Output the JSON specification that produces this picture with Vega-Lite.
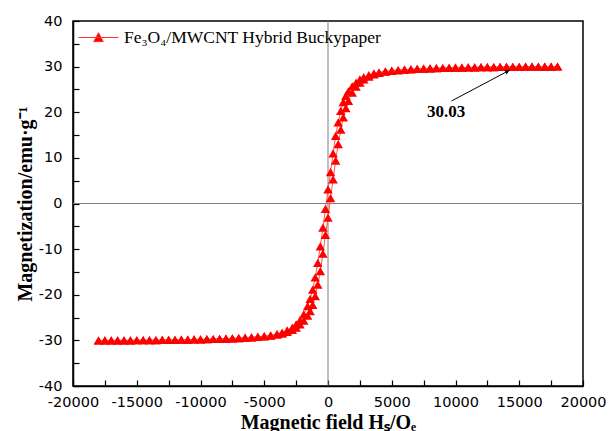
{
  "$schema": "https://vega.github.io/schema/vega-lite/v6.json",
  "width": 510,
  "height": 365,
  "autosize": {"type": "none"},
  "padding": {"left": 73, "top": 21, "right": 27, "bottom": 45},
  "background": "white",
  "config": {
    "view": {"stroke": "black", "strokeWidth": 1.5},
    "axis": {
      "grid": false,
      "domainColor": "black",
      "domainWidth": 1.5,
      "tickColor": "black",
      "tickWidth": 1.2,
      "tickSize": -6,
      "labelFont": "DejaVu Sans",
      "labelFontSize": 14.5,
      "labelColor": "black",
      "labelFlush": false,
      "labelOverlap": false,
      "titleFont": "Liberation Serif",
      "titleFontSize": 20,
      "titleFontWeight": "bold",
      "titleColor": "black"
    }
  },
  "datasets": {
    "loop": [
      {"b":"d","H":18000,"M":30.03},{"b":"d","H":17500,"M":30.02},{"b":"d","H":17000,"M":30.01},{"b":"d","H":16500,"M":30.0},{"b":"d","H":16000,"M":29.99},{"b":"d","H":15500,"M":29.98},{"b":"d","H":15000,"M":29.97},{"b":"d","H":14500,"M":29.96},{"b":"d","H":14000,"M":29.94},{"b":"d","H":13500,"M":29.93},{"b":"d","H":13000,"M":29.91},{"b":"d","H":12500,"M":29.89},{"b":"d","H":12000,"M":29.87},{"b":"d","H":11500,"M":29.85},{"b":"d","H":11000,"M":29.83},{"b":"d","H":10500,"M":29.8},{"b":"d","H":10000,"M":29.77},{"b":"d","H":9500,"M":29.74},{"b":"d","H":9000,"M":29.7},{"b":"d","H":8500,"M":29.66},{"b":"d","H":8000,"M":29.62},{"b":"d","H":7500,"M":29.57},{"b":"d","H":7000,"M":29.51},{"b":"d","H":6500,"M":29.44},{"b":"d","H":6000,"M":29.36},{"b":"d","H":5500,"M":29.26},{"b":"d","H":5000,"M":29.14},{"b":"d","H":4500,"M":28.98},{"b":"d","H":4000,"M":28.76},{"b":"d","H":3600,"M":28.5},{"b":"d","H":3200,"M":28.15},{"b":"d","H":2800,"M":27.7},{"b":"d","H":2500,"M":27.2},{"b":"d","H":2200,"M":26.5},{"b":"d","H":1900,"M":25.7},{"b":"d","H":1600,"M":24.6},{"b":"d","H":1400,"M":23.6},{"b":"d","H":1200,"M":22.2},{"b":"d","H":1000,"M":20.3},{"b":"d","H":800,"M":17.8},{"b":"d","H":600,"M":14.8},{"b":"d","H":400,"M":11.0},{"b":"d","H":200,"M":6.9},{"b":"d","H":0,"M":3.1},{"b":"d","H":-200,"M":-1.2},{"b":"d","H":-400,"M":-5.3},{"b":"d","H":-600,"M":-9.4},{"b":"d","H":-800,"M":-13.0},{"b":"d","H":-1000,"M":-16.2},{"b":"d","H":-1200,"M":-18.9},{"b":"d","H":-1400,"M":-20.9},{"b":"d","H":-1600,"M":-22.5},{"b":"d","H":-1900,"M":-24.3},{"b":"d","H":-2200,"M":-25.6},{"b":"d","H":-2500,"M":-26.5},{"b":"d","H":-2800,"M":-27.2},{"b":"d","H":-3200,"M":-27.8},{"b":"d","H":-3600,"M":-28.3},{"b":"d","H":-4000,"M":-28.6},{"b":"d","H":-4500,"M":-28.9},{"b":"d","H":-5000,"M":-29.08},{"b":"d","H":-5500,"M":-29.2},{"b":"d","H":-6000,"M":-29.32},{"b":"d","H":-6500,"M":-29.41},{"b":"d","H":-7000,"M":-29.49},{"b":"d","H":-7500,"M":-29.56},{"b":"d","H":-8000,"M":-29.61},{"b":"d","H":-8500,"M":-29.66},{"b":"d","H":-9000,"M":-29.7},{"b":"d","H":-9500,"M":-29.74},{"b":"d","H":-10000,"M":-29.77},{"b":"d","H":-10500,"M":-29.8},{"b":"d","H":-11000,"M":-29.83},{"b":"d","H":-11500,"M":-29.85},{"b":"d","H":-12000,"M":-29.87},{"b":"d","H":-12500,"M":-29.89},{"b":"d","H":-13000,"M":-29.91},{"b":"d","H":-13500,"M":-29.93},{"b":"d","H":-14000,"M":-29.94},{"b":"d","H":-14500,"M":-29.96},{"b":"d","H":-15000,"M":-29.97},{"b":"d","H":-15500,"M":-29.98},{"b":"d","H":-16000,"M":-29.99},{"b":"d","H":-16500,"M":-30.0},{"b":"d","H":-17000,"M":-30.01},{"b":"d","H":-17500,"M":-30.02},{"b":"d","H":-18000,"M":-30.03},
      {"b":"a","H":-18000,"M":-30.03},{"b":"a","H":-17500,"M":-30.02},{"b":"a","H":-17000,"M":-30.01},{"b":"a","H":-16500,"M":-30.0},{"b":"a","H":-16000,"M":-29.99},{"b":"a","H":-15500,"M":-29.98},{"b":"a","H":-15000,"M":-29.97},{"b":"a","H":-14500,"M":-29.96},{"b":"a","H":-14000,"M":-29.94},{"b":"a","H":-13500,"M":-29.93},{"b":"a","H":-13000,"M":-29.91},{"b":"a","H":-12500,"M":-29.89},{"b":"a","H":-12000,"M":-29.87},{"b":"a","H":-11500,"M":-29.85},{"b":"a","H":-11000,"M":-29.83},{"b":"a","H":-10500,"M":-29.8},{"b":"a","H":-10000,"M":-29.77},{"b":"a","H":-9500,"M":-29.74},{"b":"a","H":-9000,"M":-29.7},{"b":"a","H":-8500,"M":-29.66},{"b":"a","H":-8000,"M":-29.62},{"b":"a","H":-7500,"M":-29.57},{"b":"a","H":-7000,"M":-29.51},{"b":"a","H":-6500,"M":-29.44},{"b":"a","H":-6000,"M":-29.36},{"b":"a","H":-5500,"M":-29.26},{"b":"a","H":-5000,"M":-29.14},{"b":"a","H":-4500,"M":-28.98},{"b":"a","H":-4000,"M":-28.76},{"b":"a","H":-3600,"M":-28.5},{"b":"a","H":-3200,"M":-28.15},{"b":"a","H":-2800,"M":-27.7},{"b":"a","H":-2500,"M":-27.2},{"b":"a","H":-2200,"M":-26.5},{"b":"a","H":-1900,"M":-25.7},{"b":"a","H":-1600,"M":-24.6},{"b":"a","H":-1400,"M":-23.6},{"b":"a","H":-1200,"M":-22.2},{"b":"a","H":-1000,"M":-20.3},{"b":"a","H":-800,"M":-17.8},{"b":"a","H":-600,"M":-14.8},{"b":"a","H":-400,"M":-11.0},{"b":"a","H":-200,"M":-6.9},{"b":"a","H":0,"M":-3.1},{"b":"a","H":200,"M":1.2},{"b":"a","H":400,"M":5.3},{"b":"a","H":600,"M":9.4},{"b":"a","H":800,"M":13.0},{"b":"a","H":1000,"M":16.2},{"b":"a","H":1200,"M":18.9},{"b":"a","H":1400,"M":20.9},{"b":"a","H":1600,"M":22.5},{"b":"a","H":1900,"M":24.3},{"b":"a","H":2200,"M":25.6},{"b":"a","H":2500,"M":26.5},{"b":"a","H":2800,"M":27.2},{"b":"a","H":3200,"M":27.8},{"b":"a","H":3600,"M":28.3},{"b":"a","H":4000,"M":28.6},{"b":"a","H":4500,"M":28.9},{"b":"a","H":5000,"M":29.08},{"b":"a","H":5500,"M":29.2},{"b":"a","H":6000,"M":29.32},{"b":"a","H":6500,"M":29.41},{"b":"a","H":7000,"M":29.49},{"b":"a","H":7500,"M":29.56},{"b":"a","H":8000,"M":29.61},{"b":"a","H":8500,"M":29.66},{"b":"a","H":9000,"M":29.7},{"b":"a","H":9500,"M":29.74},{"b":"a","H":10000,"M":29.77},{"b":"a","H":10500,"M":29.8},{"b":"a","H":11000,"M":29.83},{"b":"a","H":11500,"M":29.85},{"b":"a","H":12000,"M":29.87},{"b":"a","H":12500,"M":29.89},{"b":"a","H":13000,"M":29.91},{"b":"a","H":13500,"M":29.93},{"b":"a","H":14000,"M":29.94},{"b":"a","H":14500,"M":29.96},{"b":"a","H":15000,"M":29.97},{"b":"a","H":15500,"M":29.98},{"b":"a","H":16000,"M":29.99},{"b":"a","H":16500,"M":30.0},{"b":"a","H":17000,"M":30.01},{"b":"a","H":17500,"M":30.02},{"b":"a","H":18000,"M":30.03}
    ]
  },
  "encoding": {
    "x": {
      "field": "H", "type": "quantitative",
      "scale": {"domain": [-20000, 20000], "nice": false, "zero": false},
      "axis": {
        "title": "Magnetic field Hₛ/Oₑ",
        "values": [-20000,-17500,-15000,-12500,-10000,-7500,-5000,-2500,0,2500,5000,7500,10000,12500,15000,17500,20000],
        "labelExpr": "datum.value % 5000 == 0 ? '' + datum.value : ''",
        "labelPadding": 15.5,
        "titlePadding": 3
      }
    },
    "y": {
      "field": "M", "type": "quantitative",
      "scale": {"domain": [-40, 40], "nice": false, "zero": false},
      "axis": {
        "title": "Magnetization/emu·g⁻¹",
        "values": [-40,-35,-30,-25,-20,-15,-10,-5,0,5,10,15,20,25,30,35,40],
        "labelExpr": "datum.value % 10 == 0 ? '' + datum.value : ''",
        "labelPadding": 17,
        "titlePadding": 3
      }
    }
  },
  "layer": [
    {
      "data": {"values": [{"H": 0}]},
      "mark": {"type": "rule", "color": "#808080", "strokeWidth": 1},
      "encoding": {"y": null}
    },
    {
      "data": {"values": [{"M": 0}]},
      "mark": {"type": "rule", "color": "#808080", "strokeWidth": 1},
      "encoding": {"x": null}
    },
    {
      "data": {"name": "loop"},
      "mark": {"type": "line", "stroke": "#ff5555", "strokeWidth": 1},
      "encoding": {"detail": {"field": "b"}}
    },
    {
      "data": {"name": "loop"},
      "mark": {"type": "point", "shape": "triangle-up", "filled": true, "size": 90, "opacity": 1},
      "encoding": {
        "color": {
          "datum": "Fe₃O₄/MWCNT Hybrid Buckypaper",
          "scale": {"range": ["#ff0000"]},
          "legend": {
            "title": null,
            "orient": "none",
            "legendX": 5,
            "legendY": -4,
            "padding": 0,
            "symbolType": "M-1,0L1,0M-0.24,0.21L0,-0.24L0.24,0.21Z",
            "symbolSize": 1600,
            "symbolFillColor": "#ff0000",
            "symbolStrokeColor": "#ff3333",
            "symbolStrokeWidth": 1,
            "labelFont": "Liberation Serif",
            "labelFontSize": 17.5,
            "labelColor": "black",
            "labelOffset": 5,
            "labelLimit": 400
          }
        }
      }
    },
    {
      "data": {"values": [{"H": 9686, "M": 22.47, "H2": 14275, "M2": 29.26}]},
      "mark": {"type": "rule", "color": "black", "strokeWidth": 1},
      "encoding": {"x2": {"field": "H2"}, "y2": {"field": "M2"}}
    },
    {
      "data": {"values": [{"H": 14070, "M": 28.95}]},
      "mark": {"type": "point", "shape": "triangle-up", "filled": true, "color": "black", "size": 22, "angle": 62, "opacity": 1}
    },
    {
      "data": {"values": [{"H": 9255, "M": 20.16, "t": "30.03"}]},
      "mark": {"type": "text", "font": "Liberation Serif", "fontSize": 17, "fontWeight": "bold", "color": "black", "baseline": "middle", "align": "center"},
      "encoding": {"text": {"field": "t"}}
    }
  ]
}
